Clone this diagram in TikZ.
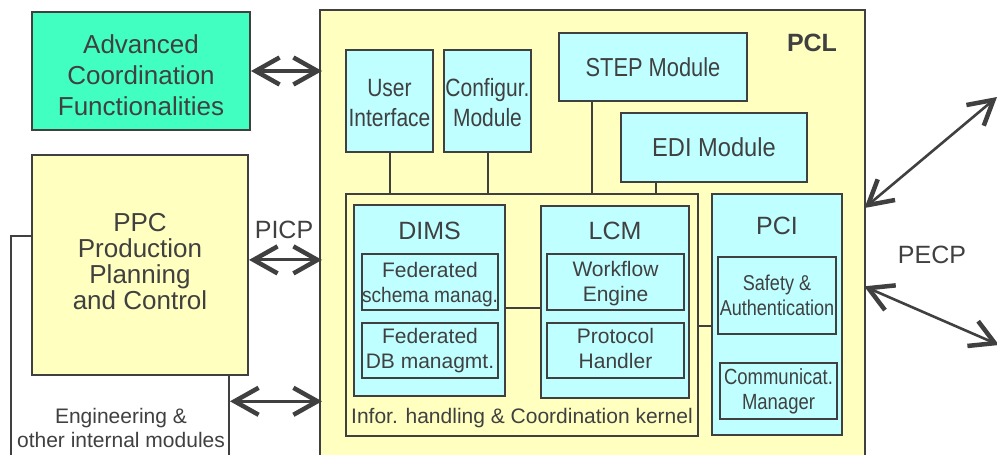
\documentclass[tikz,border=0pt]{standalone}
\usepackage{fontspec}
\setmainfont{Liberation Sans}
\newfontfamily\condA[FakeStretch=0.84]{Liberation Sans}
\newfontfamily\condB[FakeStretch=0.91]{Liberation Sans}
\usetikzlibrary{arrows.meta,calc}
\definecolor{ink}{HTML}{404040}
\definecolor{aqua}{HTML}{40FFC0}
\definecolor{paleyel}{HTML}{FFFFC0}
\definecolor{palecyan}{HTML}{BFFFFF}
\tikzset{
  box/.style={draw=ink, line width=2pt, inner sep=0pt, text=ink, align=center},
  lbl/.style={inner sep=0pt, text=ink, align=center},
  conn/.style={draw=ink, line width=2pt},
  chev/.tip={Straight Barb[length=24pt 0,width=27pt 0,line width=4.5pt 0]},
  biarrow/.style={draw=ink, line width=3.2pt, chev-chev},
  diarrow/.style={draw=ink, line width=2.6pt, chev-chev},
  big/.style={font=\fontsize{25}{30}\selectfont},
  small/.style={font=\fontsize{21}{25}\selectfont},
}
\begin{document}
\begin{tikzpicture}[x=1pt,y=-1pt]
\useasboundingbox (0,0) rectangle (997,455);
\clip (0,0) rectangle (997,455);

% left side
\node[box, minimum width=218pt, minimum height=239pt] (eng) at (120,355.5) {};
\node[lbl, font=\fontsize{21}{24}\selectfont] (engtext) at (121,428) {Engineering \&\\other internal modules};
\node[box, fill=paleyel, minimum width=216pt, minimum height=220pt] (ppc) at (140,265) {};
\node[lbl, font=\fontsize{26}{26}\selectfont] (ppctext) at (140,262) {PPC\\Production\\Planning\\and Control};
\node[box, fill=aqua, minimum width=218pt, minimum height=118pt] (adv) at (141,71) {};
\node[lbl, font=\fontsize{26}{31}\selectfont] (advtext) at (141,75) {Advanced\\Coordination\\Functionalities};

% PCL
\node[box, fill=paleyel, minimum width=545pt, minimum height=460pt] (pcl) at (592.5,240) {};
\node[lbl, font=\bfseries\fontsize{25}{30}\selectfont] (pcllbl) at (812,43) {PCL};

\node[box, fill=palecyan, minimum width=87pt, minimum height=102pt] (ui) at (389.5,101) {};
\node[lbl, font=\condA\fontsize{25}{30}\selectfont] (uitext) at (389.5,103) {User\\Interface};
\node[box, fill=palecyan, minimum width=87pt, minimum height=102pt] (cfg) at (487.5,101) {};
\node[lbl, font=\condA\fontsize{25}{30}\selectfont] (cfgtext) at (487.5,103) {Configur.\\Module};
\node[box, fill=palecyan, minimum width=188pt, minimum height=68pt, font=\condA\fontsize{26}{30}\selectfont] (step) at (653,67) {STEP Module};
\node[box, fill=palecyan, minimum width=186pt, minimum height=69pt, font=\condB\fontsize{26}{30}\selectfont] (edi) at (714,147.5) {EDI Module};

\node[box, fill=paleyel, minimum width=352pt, minimum height=242pt] (kernel) at (522,315) {};
\node[lbl, small] (kernlbl) at (522,418) {Infor. handling \& Coordination kernel};

\node[box, fill=palecyan, minimum width=151pt, minimum height=191pt] (dims) at (429.5,300.5) {};
\node[lbl, big] (dimslbl) at (429.5,231) {DIMS};
\node[box, fill=palecyan, minimum width=136pt, minimum height=56pt] (fs) at (430,282) {};
\node[lbl, small] (fstext) at (430,284.5) {Federated\\{\condB schema manag.}};
\node[box, fill=palecyan, minimum width=136pt, minimum height=55pt, small] (fdb) at (430,350.5) {Federated\\DB managmt.};

\node[box, fill=palecyan, minimum width=148pt, minimum height=192pt] (lcm) at (615,302) {};
\node[lbl, big] (lcmlbl) at (615,231) {LCM};
\node[box, fill=palecyan, minimum width=137pt, minimum height=56pt] (wf) at (615.5,282) {};
\node[lbl, small] (wftext) at (615.5,283.5) {Workflow\\Engine};
\node[box, fill=palecyan, minimum width=137pt, minimum height=55pt] (ph) at (615.5,350.5) {};
\node[lbl, small] (phtext) at (615.5,348.5) {Protocol\\Handler};

\node[box, fill=palecyan, minimum width=130pt, minimum height=241pt] (pci) at (777,314.5) {};
\node[lbl, big] (pcilbl) at (777,226) {PCI};
\node[box, fill=palecyan, minimum width=118pt, minimum height=77pt, font=\condA\fontsize{21.5}{25}\selectfont] (saf) at (777,295.5) {Safety \&\\Authentication};
\node[box, fill=palecyan, minimum width=117pt, minimum height=56pt, font=\condA\fontsize{22}{25}\selectfont] (com) at (778.5,391) {Communicat.\\Manager};

% internal connectors
\draw[conn] (ui.south) -- (ui.south |- kernel.north);
\draw[conn] (cfg.south) -- (cfg.south |- kernel.north);
\coordinate (s1) at ($(step.south west)!0.18!(step.south east)$);
\draw[conn] (s1) -- (s1 |- kernel.north);
\coordinate (e1) at ($(edi.south west)!0.19!(edi.south east)$);
\draw[conn] (e1) -- (e1 |- kernel.north);
\coordinate (d1) at ($(dims.north east)!0.54!(dims.south east)$);
\draw[conn] (d1) -- (d1 -| lcm.west);
\coordinate (k1) at ($(kernel.north east)!0.545!(kernel.south east)$);
\draw[conn] (k1) -- (k1 -| pci.west);

% external arrows
\draw[biarrow, shorten >=-3pt] (adv.east) -- (adv.east -| pcl.west);
\coordinate (p1) at ($(ppc.north east)!0.477!(ppc.south east)$);
\draw[biarrow, shorten >=-3pt] (p1) -- (p1 -| pcl.west);
\node[lbl, big] (picp) at (284,230) {PICP};
\coordinate (g1) at ($(eng.north east)!0.69!(eng.south east)$);
\draw[biarrow, shorten >=-3pt] (g1) -- (g1 -| pcl.west);

\coordinate (r1) at ($(pcl.north east)!0.428!(pcl.south east)$);
\coordinate (r2) at ($(pcl.north east)!0.602!(pcl.south east)$);
\coordinate (x1) at (997,97);
\coordinate (x2) at (999,345);
\draw[diarrow, shorten <=-2pt] (r1) -- (x1);
\draw[diarrow, shorten <=-2pt] (r2) -- (x2);
\node[lbl, big] (pecp) at (932,255) {PECP};
\end{tikzpicture}
\end{document}
